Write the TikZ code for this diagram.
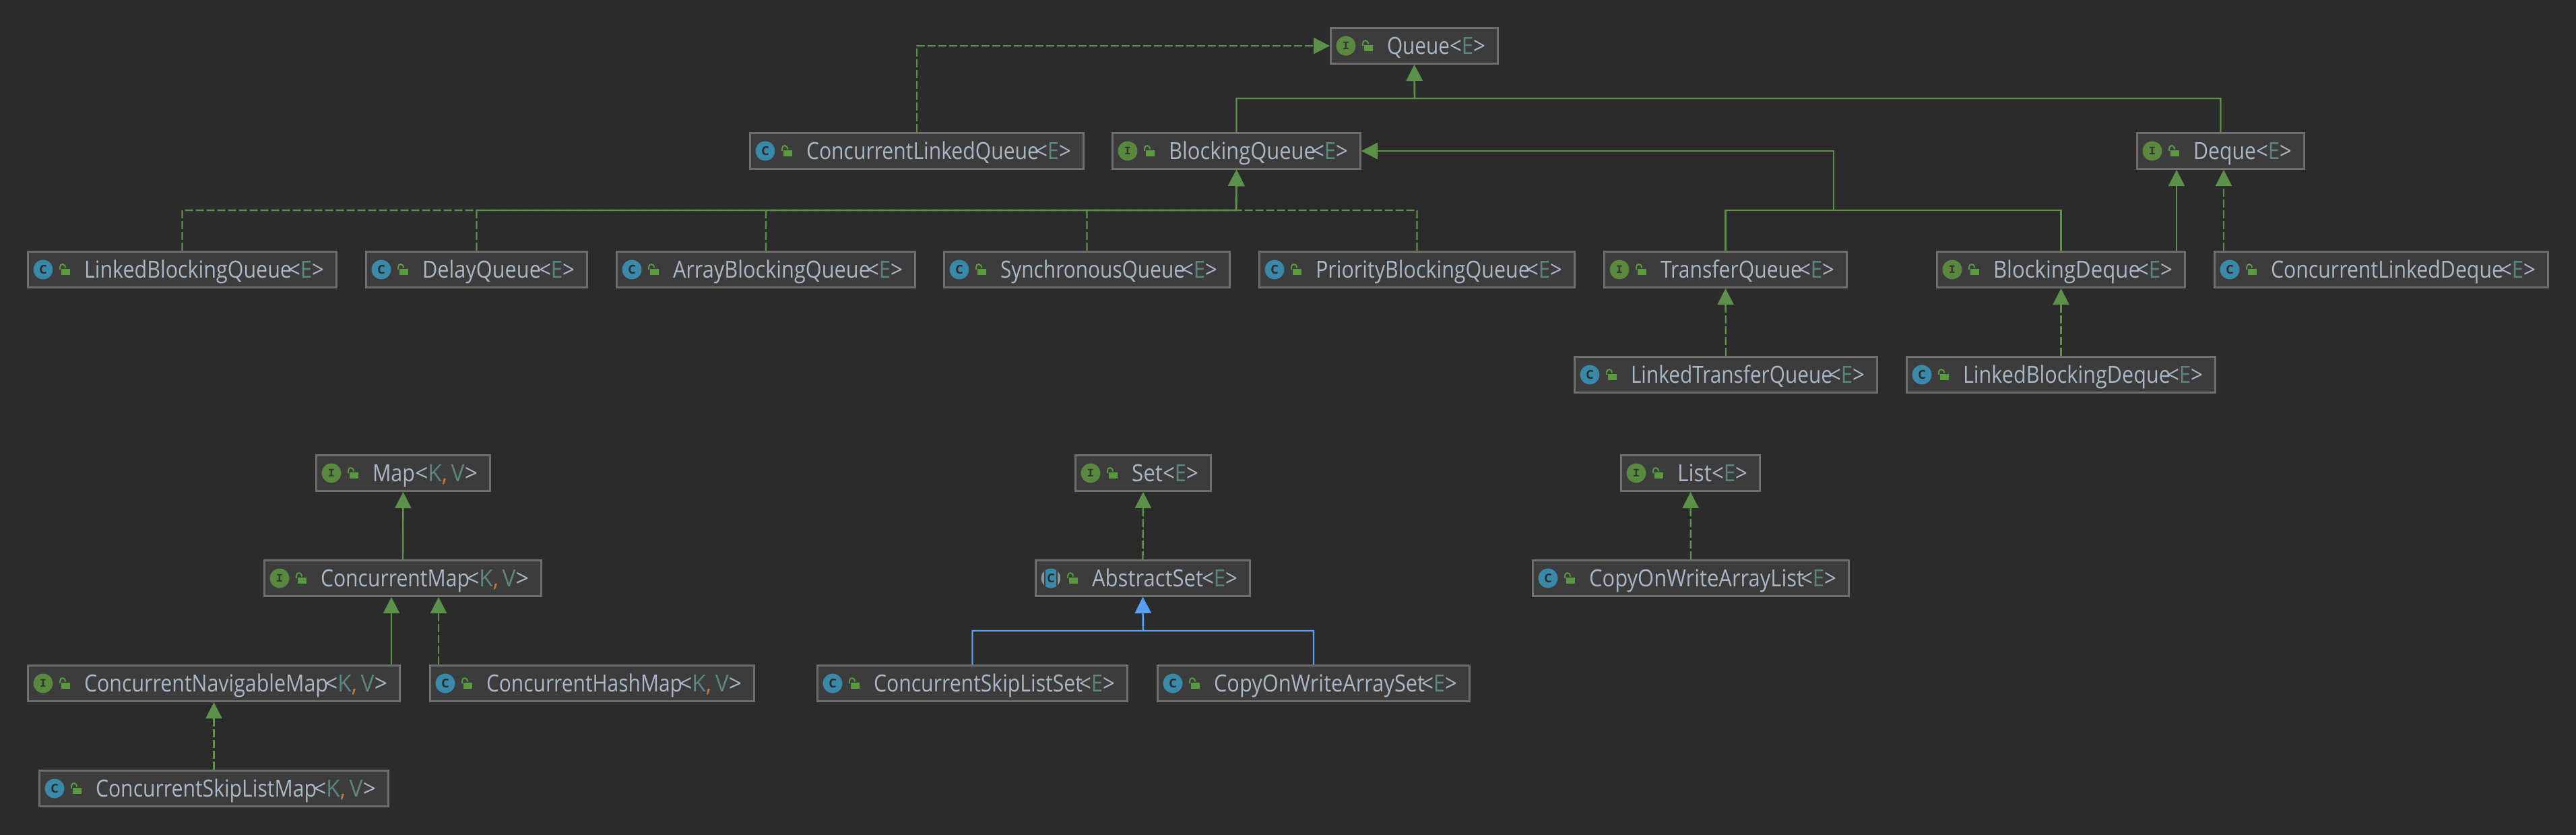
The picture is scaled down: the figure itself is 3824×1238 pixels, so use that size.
\documentclass[tikz,border=0pt]{standalone}
\usepackage{fontspec}
\usepackage{graphicx}
\setmainfont{Open Sans}
\newfontfamily\iconI{Liberation Mono}
\newfontfamily\iconC{Open Sans}
\usetikzlibrary{arrows.meta}
\definecolor{canvas}{HTML}{2B2B2B}
\definecolor{panel}{HTML}{3C3C3C}
\definecolor{rim}{HTML}{6E6E6E}
\definecolor{txt}{HTML}{A9B7C6}
\definecolor{typ}{HTML}{5A8580}
\definecolor{comma}{HTML}{CC7832}
\definecolor{greenline}{HTML}{5C9149}
\definecolor{blueline}{HTML}{589DF6}
\definecolor{ifill}{HTML}{59883F}
\definecolor{cfill}{HTML}{3B89A8}
\definecolor{lockg}{HTML}{5A9A3E}
\definecolor{mark}{HTML}{2E3A2E}
\definecolor{abs}{HTML}{8C9499}
\tikzset{
  classbox/.style={draw=rim,fill=panel,line width=1.5pt,rectangle,inner sep=0pt},
  label/.style={inner sep=0pt,outer sep=0pt,text=txt,font=\fontsize{17.5}{21}\selectfont},
  badge/.style={circle,inner sep=0pt,minimum size=14.4pt,outer sep=0pt},
  kindI/.style={badge,fill=ifill,text=mark,font=\iconI\bfseries\fontsize{8.5}{8.5}\selectfont},
  kindC/.style={badge,fill=cfill,text=canvas,font=\iconC\bfseries\fontsize{9}{9}\selectfont},
  kindA/.style={badge,text=canvas,font=\iconC\bfseries\fontsize{9}{9}\selectfont},
  lockarc/.style={draw=lockg,line width=1pt},
  ext/.style={draw=greenline,line width=1.2pt,-{Triangle[length=12pt,width=12pt]},color=greenline},
  impl/.style={ext,dash pattern=on 6pt off 2pt},
  extblue/.style={ext,draw=blueline,color=blueline}
}
\newcommand\genE{\textcolor{txt}{<}\textcolor{typ}{E}\textcolor{txt}{>}}
\newcommand\genK{\textcolor{txt}{<}\textcolor{typ}{K}\textcolor{comma}{,}\,\textcolor{typ}{V}\textcolor{txt}{>}}
\newcommand\genwE{53}
\newcommand\genwK{93}
\newcommand\glyphI{I}
\newcommand\glyphC{C}
\newcommand\glyphA{C}
% id, left, right, top, kind, name, overlap, generics
\newcommand\umlbox[8]{%
  \pgfmathsetmacro\bxCx{(#2+#3)/2}%
  \pgfmathsetmacro\bxCy{#4+28}%
  \pgfmathsetmacro\bxW{(#3-#2-3)*0.5}%
  \pgfmathsetmacro\bxH{53*0.5}%
  \pgfmathsetmacro\bxIx{#2+24}%
  \pgfmathsetmacro\bxTx{#2+85}%
  \pgfmathsetmacro\bxTy{#4+40}%
  \pgfmathsetmacro\bxEx{#3-20}%
  \pgfmathsetmacro\bxGw{\csname genw#8\endcsname*0.5}%
  \pgfmathsetmacro\bxNw{(#3-20-\csname genw#8\endcsname-#2-85+#7)*0.5}%
  \node[classbox,minimum width=\bxW pt,minimum height=\bxH pt] (#1) at (\bxCx,\bxCy) {};
  \ifx#5A
    \begin{scope}
      \clip (\bxIx,\bxCy) circle (7.2pt);
      \fill[abs] (\bxIx,\bxCy) circle (7.2pt);
      \fill[panel] ([xshift=-5pt,yshift=-7.2pt]\bxIx,\bxCy) rectangle ([xshift=5pt,yshift=7.2pt]\bxIx,\bxCy);
      \fill[cfill] ([xshift=-4pt,yshift=-7.2pt]\bxIx,\bxCy) rectangle ([xshift=4pt,yshift=7.2pt]\bxIx,\bxCy);
    \end{scope}
  \fi
  \node[kind#5] (#1-icon) at (\bxIx,\bxCy) {\csname glyph#5\endcsname};
  \fill[lockg] (#2+51,#4+27) rectangle (#2+64,#4+36);
  \draw[lockarc] (#2+49,#4+28) -- (#2+49,#4+24.5) .. controls (#2+49,#4+18.5) and (#2+57,#4+18.5) .. (#2+57,#4+25.5);
  \node[label,anchor=base west] (#1-name) at (\bxTx,\bxTy) {\resizebox{\bxNw pt}{\height}{#6}};
  \node[label,anchor=base east] (#1-gen) at (\bxEx,\bxTy) {\resizebox{\bxGw pt}{\height}{\csname gen#8\endcsname}};
}
\begin{document}
\begin{tikzpicture}[x=0.5pt,y=-0.5pt]
\useasboundingbox (0,0) rectangle (3824,1238);
\fill[canvas] (-4,-4) rectangle (3828,1242);
% nodes
\umlbox{q}{1974}{2225}{40}{I}{Queue}{0}{E}
\umlbox{clq}{1112}{1610}{196}{C}{ConcurrentLinkedQueue}{5}{E}
\umlbox{bq}{1650}{2021}{196}{I}{BlockingQueue}{5}{E}
\umlbox{dq}{3171}{3422}{196}{I}{Deque}{0}{E}
\umlbox{lbq}{40}{501}{372}{C}{LinkedBlockingQueue}{5}{E}
\umlbox{delay}{542}{873}{372}{C}{DelayQueue}{3}{E}
\umlbox{abq}{914}{1360}{372}{C}{ArrayBlockingQueue}{5}{E}
\umlbox{sq}{1400}{1827}{372}{C}{SynchronousQueue}{5}{E}
\umlbox{pbq}{1868}{2339}{372}{C}{PriorityBlockingQueue}{5}{E}
\umlbox{tq}{2380}{2743}{372}{I}{TransferQueue}{5}{E}
\umlbox{bd}{2874}{3245}{372}{I}{BlockingDeque}{5}{E}
\umlbox{cld}{3286}{3784}{372}{C}{ConcurrentLinkedDeque}{5}{E}
\umlbox{ltq}{2336}{2788}{528}{C}{LinkedTransferQueue}{5}{E}
\umlbox{lbd}{2829}{3290}{528}{C}{LinkedBlockingDeque}{5}{E}
\umlbox{map}{468}{729}{674}{I}{Map}{0}{K}
\umlbox{cm}{391}{805}{830}{I}{ConcurrentMap}{5}{K}
\umlbox{cnm}{40}{595}{986}{I}{ConcurrentNavigableMap}{5}{K}
\umlbox{chm}{637}{1121}{986}{C}{ConcurrentHashMap}{5}{K}
\umlbox{cslm}{57}{578}{1142}{C}{ConcurrentSkipListMap}{5}{K}
\umlbox{set}{1595}{1799}{674}{I}{Set}{0}{E}
\umlbox{absset}{1536}{1857}{830}{A}{AbstractSet}{2}{E}
\umlbox{list}{2405}{2614}{674}{I}{List}{0}{E}
\umlbox{cowal}{2274}{2746}{830}{C}{CopyOnWriteArrayList}{5}{E}
\umlbox{csls}{1212}{1675}{986}{C}{ConcurrentSkipListSet}{5}{E}
\umlbox{cows}{1717}{2183}{986}{C}{CopyOnWriteArraySet}{5}{E}
% junctions
\coordinate (qbus) at (2100,146);
\coordinate (bqbus) at (1835,312);
\coordinate (tbus) at (2722,312);
\coordinate (setbus) at (1697,936);
% Queue family
\draw[impl] (clq.north) |- (q.west);
\draw[ext] (bq.north) |- (qbus) -- (q.south);
\draw[ext] (dq.north) |- (qbus) -- (q.south);
\draw[impl] (lbq.north) |- (bqbus) -- (bq.south);
\draw[impl] (delay.north) |- (bqbus) -- (bq.south);
\draw[impl] (abq.north) |- (bqbus) -- (bq.south);
\draw[impl] (sq.north) |- (bqbus) -- (bq.south);
\draw[impl] (pbq.north) |- (bqbus) -- (bq.south);
\draw[ext] (tq.north) |- (tbus) |- (bq.east);
\draw[ext] (bd.north) |- (tbus) |- (bq.east);
\draw[ext] ([xshift=-32.75pt]dq.south |- bd.north) -- ([xshift=-32.75pt]dq.south);
\draw[impl] ([xshift=2.25pt]dq.south |- cld.north) -- ([xshift=2.25pt]dq.south);
\draw[impl] (ltq.north) -- (tq.south);
\draw[impl] (lbd.north) -- (bd.south);
% Map family
\draw[ext] (cm.north) -- (map.south);
\draw[ext] ([xshift=-8.5pt]cm.south |- cnm.north) -- ([xshift=-8.5pt]cm.south);
\draw[impl] ([xshift=26.5pt]cm.south |- chm.north) -- ([xshift=26.5pt]cm.south);
\draw[impl] (cslm.north) -- (cnm.south);
% Set family
\draw[impl] (absset.north) -- (set.south);
\draw[extblue] (csls.north) |- (setbus) -- (absset.south);
\draw[extblue] (cows.north) |- (setbus) -- (absset.south);
% List family
\draw[impl] (cowal.north) -- (list.south);
\end{tikzpicture}
\end{document}
